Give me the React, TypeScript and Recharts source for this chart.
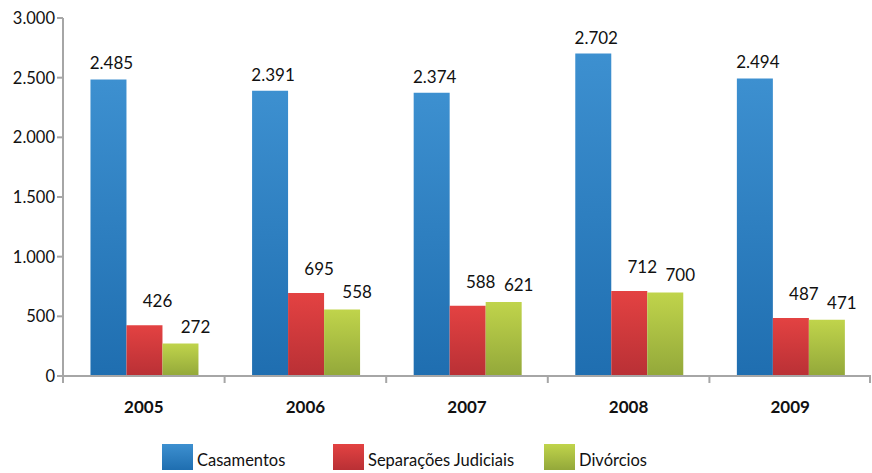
import { Bar, BarChart, LabelList, Legend, XAxis, YAxis } from "recharts";

const years = ["2005", "2006", "2007", "2008", "2009"];
const casamentos = [2485, 2391, 2374, 2702, 2494];
const separacoes = [426, 695, 588, 712, 487];
const divorcios = [272, 558, 621, 700, 471];
const yTicks = [0, 500, 1000, 1500, 2000, 2500, 3000];

const data = years.map((y, i) => ({
  ano: y,
  casamentos: casamentos[i],
  separacoes: separacoes[i],
  divorcios: divorcios[i],
}));

const W = 872;
const H = 473;
const LEFT = 63;
const RIGHT = 1;
const band = (W - LEFT - RIGHT) / years.length;
const FONT = "Lato, 'Open Sans', sans-serif";
const AXIS = "#a6a6a6";

const fmt = (v: number) => String(v).replace(/\B(?=(\d{3})+(?!\d))/g, ".");

// label nudges copy how Excel placed the data labels
const series = [
  { key: "casamentos", name: "Casamentos", top: "#3d90d0", bottom: "#1f6eb0", lx: 162, dx: 3, off: 10 },
  { key: "separacoes", name: "Separações Judiciais", top: "#e34242", bottom: "#b93035", lx: 333, dx: 13, off: 18 },
  { key: "divorcios", name: "Divórcios", top: "#c0d44b", bottom: "#93a83a", lx: 544, dx: 15, off: 11 },
];

function XTick(props: any) {
  const { x, y, payload, index } = props;
  const last = index === years.length - 1;
  return (
    <g>
      <line x1={x - band / 2} x2={x - band / 2} y1={y - 8} y2={y - 1} stroke={AXIS} strokeWidth={2} />
      {last && <line x1={x + band / 2 - 1} x2={x + band / 2 - 1} y1={y - 8} y2={y - 1} stroke={AXIS} strokeWidth={2} />}
      <text x={x} y={y + 29} textAnchor="middle" fontFamily={FONT} fontWeight="bold" fontSize={17} fill="#111">
        {payload.value}
      </text>
    </g>
  );
}

function LegendBox() {
  return (
    <div style={{ position: "relative", height: 28, fontFamily: FONT, fontSize: 16.5, color: "#111" }}>
      {series.map((s) => (
        <div key={s.key} style={{ position: "absolute", left: s.lx, top: 0, display: "flex", alignItems: "flex-end" }}>
          <div style={{ width: 31, height: 26, background: `linear-gradient(${s.top}, ${s.bottom})` }} />
          <span style={{ marginLeft: 4, lineHeight: "20px" }}>{s.name}</span>
        </div>
      ))}
    </div>
  );
}

export default function App() {
  return (
    <div style={{ position: "absolute", left: 0, top: 0, background: "#fff" }}>
      <BarChart
        width={W}
        height={H}
        data={data}
        margin={{ top: 18, right: RIGHT, left: 0, bottom: 61 }}
        barCategoryGap="17%"
        barGap={0}
      >
        <defs>
          {series.map((s) => (
            <linearGradient key={s.key} id={"g-" + s.key} x1="0" y1="0" x2="0" y2="1">
              <stop offset="0%" stopColor={s.top} />
              <stop offset="100%" stopColor={s.bottom} />
            </linearGradient>
          ))}
        </defs>
        <XAxis
          dataKey="ano"
          axisLine={{ stroke: AXIS, strokeWidth: 2 }}
          tickLine={false}
          tick={<XTick />}
          interval={0}
          height={8}
        />
        <YAxis
          width={LEFT}
          domain={[0, 3000]}
          ticks={yTicks}
          tickFormatter={fmt}
          axisLine={{ stroke: AXIS, strokeWidth: 2 }}
          tickLine={{ stroke: AXIS, strokeWidth: 2 }}
          tickSize={6}
          tick={{ fontFamily: FONT, fontSize: 16.5, fill: "#111" }}
          interval={0}
        />
        <Legend
          content={<LegendBox />}
          wrapperStyle={{ position: "absolute", left: 0, top: 444, width: W }}
        />
        {series.map((s) => (
          <Bar key={s.key} dataKey={s.key} name={s.name} fill={`url(#g-${s.key})`} isAnimationActive={false}>
            <LabelList
              dataKey={s.key}
              position="top"
              offset={s.off}
              dx={s.dx}
              formatter={(v: any) => fmt(Number(v))}
              style={{ fontFamily: FONT, fontSize: 17, fill: "#111" }}
            />
          </Bar>
        ))}
      </BarChart>
    </div>
  );
}
